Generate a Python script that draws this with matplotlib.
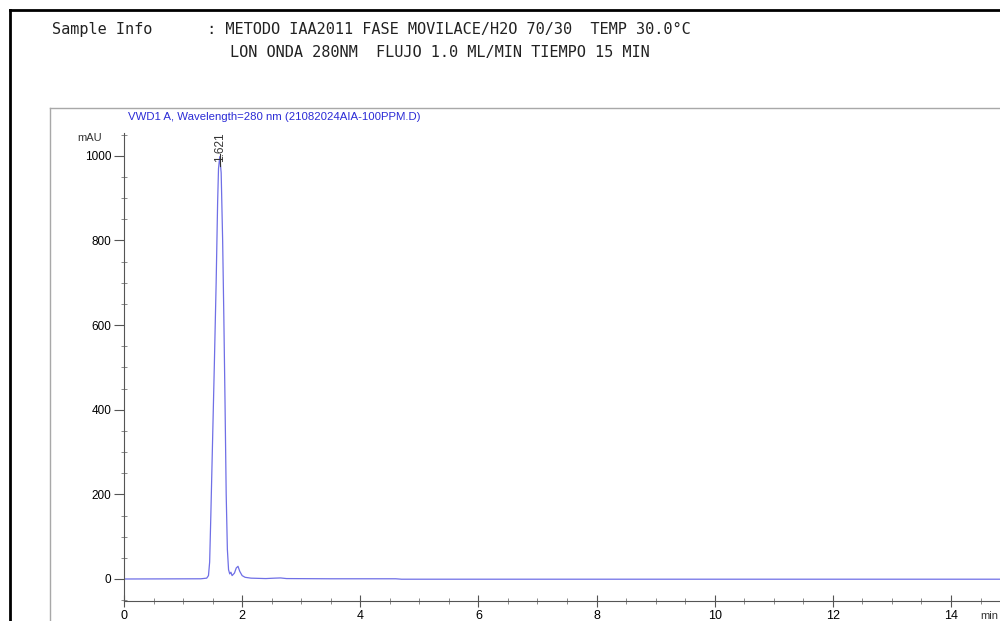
import matplotlib.pyplot as plt
from matplotlib.ticker import MultipleLocator

# chromatogram trace (time in min, signal in mAU)
time_min = [0.0, 1.30, 1.40, 1.43, 1.45, 1.47, 1.50, 1.53, 1.56, 1.585,
            1.60, 1.621, 1.645, 1.67, 1.69, 1.71, 1.73, 1.75, 1.77,
            1.79, 1.81, 1.83, 1.87, 1.90, 1.93, 1.96, 2.00, 2.05, 2.15,
            2.40, 2.55, 2.65, 2.75, 3.50, 4.60, 4.70, 14.83]
signal_mau = [0.0, 0.5, 2, 8, 40, 150, 330, 510, 700, 890,
              970, 998, 960, 800, 620, 420, 200, 70, 22,
              12, 16, 8, 14, 26, 30, 18, 8, 4, 2,
              1, 2, 2.5, 1, 0.5, 0.5, -0.5, -0.5]

peak_rt = 1.621
peak_label = "1.621"
y_ticks = [0, 200, 400, 600, 800, 1000]
x_ticks = [0, 2, 4, 6, 8, 10, 12, 14]

header_1 = "Sample Info      : METODO IAA2011 FASE MOVILACE/H2O 70/30  TEMP 30.0°C"
header_2 = "LON ONDA 280NM  FLUJO 1.0 ML/MIN TIEMPO 15 MIN"
signal_title = "VWD1 A, Wavelength=280 nm (21082024AIA-100PPM.D)"

plt.rcParams['font.family'] = ['Liberation Sans', 'DejaVu Sans']

fig = plt.figure(figsize=(10, 6.21), dpi=100)
W, H = 1000, 621


def fx(px):
    return px / W


def fy(py):
    return 1 - py / H


# outer black frame (top and left visible)
fig.add_artist(plt.Line2D([fx(10), fx(10)], [fy(10), 0], color='black', lw=2))
fig.add_artist(plt.Line2D([fx(10), 1], [fy(10), fy(10)], color='black', lw=2))
# inner gray panel frame
fig.add_artist(plt.Line2D([fx(50), fx(50)], [fy(108), 0], color='#a8a8a8', lw=1))
fig.add_artist(plt.Line2D([fx(50), 1], [fy(108), fy(108)], color='#a8a8a8', lw=1))

fig.text(fx(52), fy(29), header_1, family='DejaVu Sans Mono', fontsize=11,
         va='center', ha='left', color='#222222')
fig.text(fx(230), fy(53), header_2, family='DejaVu Sans Mono', fontsize=11,
         va='center', ha='left', color='#222222')
fig.text(fx(128), fy(117), signal_title, fontsize=8.2, color='#2b2bd6',
         va='center', ha='left')

ax = fig.add_axes([fx(124), fy(601), 1 - fx(124), fy(133) - fy(601)])
ax.plot(time_min, signal_mau, color='#6f6fe6', lw=0.9)
ax.set_xlim(0, 14.83)
ax.set_ylim(-52, 1054)

for s in ['top', 'right']:
    ax.spines[s].set_visible(False)
for s in ['left', 'bottom']:
    ax.spines[s].set_color('#555555')
    ax.spines[s].set_linewidth(0.8)

ax.set_yticks(y_ticks)
ax.set_xticks(x_ticks)
ax.yaxis.set_minor_locator(MultipleLocator(50))
ax.xaxis.set_minor_locator(MultipleLocator(0.5))
ax.tick_params(axis='y', which='major', direction='out', length=7, width=0.8,
               color='#555555', labelsize=8.5, pad=2)
ax.tick_params(axis='y', which='minor', direction='inout', length=4, width=0.6,
               color='#777777')
ax.tick_params(axis='x', which='major', direction='inout', length=8, width=0.8,
               color='#555555', labelsize=9, pad=2.5)
ax.tick_params(axis='x', which='minor', direction='inout', length=4, width=0.6,
               color='#777777')

ax.text(-0.38, 1054, "mAU", fontsize=8, ha='right', va='top', color='#333333')
ax.annotate("min", xy=(1.0, 0), xycoords='axes fraction',
            xytext=(-1, -7), textcoords='offset points', fontsize=8,
            ha='right', va='top', color='#333333', annotation_clip=False)

# retention time label on the peak
ax.plot([peak_rt, peak_rt], [975, 1005], color='#333333', lw=0.8)
ax.text(peak_rt, 985, peak_label, rotation=90, fontsize=8.5, ha='center',
        va='bottom', color='#333333')

fig.savefig('out.png', dpi=100)
